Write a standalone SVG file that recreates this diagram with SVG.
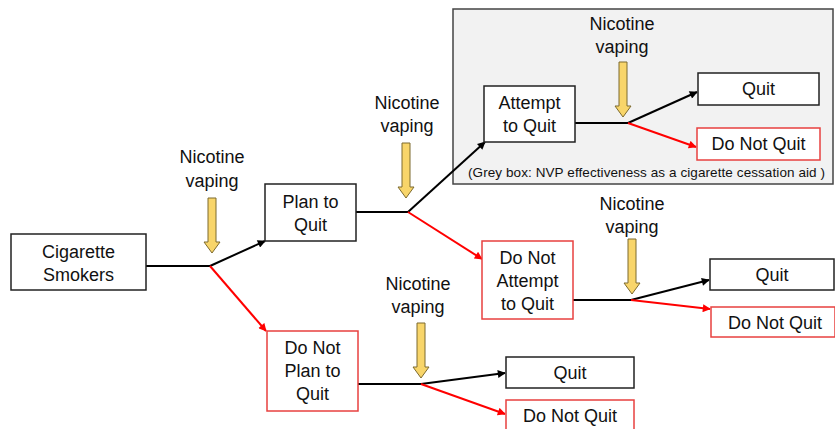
<svg xmlns="http://www.w3.org/2000/svg" width="835" height="429" viewBox="0 0 835 429">
<defs>
<style>
text{font-family:"Liberation Sans",Arial,sans-serif;fill:#111;}
.lbl{font-size:18px;text-anchor:middle;}
.cap{font-size:13.5px;}
.box{fill:#fff;stroke:#222;stroke-width:1.5;}
.rbox{fill:#fff;stroke:#e8403f;stroke-width:1.5;}
.k{stroke:#000;stroke-width:2;fill:none;}
.r{stroke:#f00;stroke-width:2;fill:none;}
.ya{fill:#f8d56a;stroke:#7d6a2e;stroke-width:1;}
</style>
<marker id="ak" viewBox="0 0 10 10" refX="9" refY="5" markerWidth="9" markerHeight="8" markerUnits="userSpaceOnUse" orient="auto"><path d="M0,0L10,5L0,10z" fill="#000"/></marker>
<marker id="ar" viewBox="0 0 10 10" refX="9" refY="5" markerWidth="9" markerHeight="8" markerUnits="userSpaceOnUse" orient="auto"><path d="M0,0L10,5L0,10z" fill="#f00"/></marker>
<path id="yarrow" class="ya" d="M-4,0H4V44H8L0,55L-8,44H-4Z"/>
</defs>
<rect width="835" height="429" fill="#fff"/>

<g id="greybox">
<rect x="453" y="9" width="380" height="175" fill="#f2f2f2" stroke="#444" stroke-width="1.5"/>
<text class="cap" x="468" y="177" textLength="357" lengthAdjust="spacing">(Grey box: NVP effectiveness as a cigarette cessation aid )</text>
</g>

<g id="connectors">
<line class="k" x1="146" y1="266" x2="210" y2="266"/>
<line class="k" x1="210" y1="266" x2="265" y2="241" marker-end="url(#ak)"/>
<line class="r" x1="210" y1="266" x2="266" y2="331" marker-end="url(#ar)"/>
<line class="k" x1="356" y1="212" x2="408" y2="212"/>
<line class="k" x1="408" y1="212" x2="485" y2="142" marker-end="url(#ak)"/>
<line class="r" x1="408" y1="212" x2="482" y2="259" marker-end="url(#ar)"/>
<line class="k" x1="575" y1="123" x2="628" y2="123"/>
<line class="k" x1="628" y1="123" x2="697" y2="92" marker-end="url(#ak)"/>
<line class="r" x1="628" y1="123" x2="696" y2="147" marker-end="url(#ar)"/>
<line class="k" x1="573" y1="300" x2="631" y2="300"/>
<line class="k" x1="631" y1="300" x2="709" y2="280" marker-end="url(#ak)"/>
<line class="r" x1="631" y1="300" x2="710" y2="309" marker-end="url(#ar)"/>
<line class="k" x1="358" y1="384" x2="421" y2="384"/>
<line class="k" x1="421" y1="384" x2="505" y2="373" marker-end="url(#ak)"/>
<line class="r" x1="421" y1="384" x2="505" y2="414" marker-end="url(#ar)"/>
</g>

<g id="vaping1">
<text class="lbl" x="212" y="163">Nicotine</text>
<text class="lbl" x="212" y="187">vaping</text>
<use href="#yarrow" x="212" y="198"/>
</g>
<g id="vaping2">
<text class="lbl" x="407" y="109">Nicotine</text>
<text class="lbl" x="407" y="132">vaping</text>
<use href="#yarrow" x="406" y="143"/>
</g>
<g id="vaping3">
<text class="lbl" x="622" y="30">Nicotine</text>
<text class="lbl" x="622" y="53">vaping</text>
<use href="#yarrow" x="623" y="62"/>
</g>
<g id="vaping4">
<text class="lbl" x="632" y="210">Nicotine</text>
<text class="lbl" x="632" y="233">vaping</text>
<use href="#yarrow" x="632" y="239"/>
</g>
<g id="vaping5">
<text class="lbl" x="418" y="290">Nicotine</text>
<text class="lbl" x="418" y="313">vaping</text>
<use href="#yarrow" x="421" y="323"/>
</g>

<g id="smokers">
<rect class="box" x="11" y="234" width="135" height="56"/>
<text class="lbl" x="78.5" y="258">Cigarette</text>
<text class="lbl" x="78.5" y="281">Smokers</text>
</g>
<g id="plan">
<rect class="box" x="265" y="184" width="91" height="57"/>
<text class="lbl" x="310.5" y="208">Plan to</text>
<text class="lbl" x="310.5" y="231">Quit</text>
</g>
<g id="noplan">
<rect class="rbox" x="267" y="331" width="91" height="80"/>
<text class="lbl" x="312.5" y="354">Do Not</text>
<text class="lbl" x="312.5" y="377">Plan to</text>
<text class="lbl" x="312.5" y="400">Quit</text>
</g>
<g id="attempt">
<rect class="box" x="484" y="86" width="91" height="56"/>
<text class="lbl" x="529.5" y="109">Attempt</text>
<text class="lbl" x="529.5" y="132">to Quit</text>
</g>
<g id="noattempt">
<rect class="rbox" x="482" y="241" width="91" height="78"/>
<text class="lbl" x="527.5" y="264">Do Not</text>
<text class="lbl" x="527.5" y="287">Attempt</text>
<text class="lbl" x="527.5" y="310">to Quit</text>
</g>
<g id="quit1">
<rect class="box" x="698" y="73" width="121" height="32"/>
<text class="lbl" x="758.5" y="95">Quit</text>
</g>
<g id="noquit1">
<rect class="rbox" x="697" y="128" width="123" height="32"/>
<text class="lbl" x="758.5" y="150">Do Not Quit</text>
</g>
<g id="quit2">
<rect class="box" x="710" y="259" width="124" height="31"/>
<text class="lbl" x="772" y="281">Quit</text>
</g>
<g id="noquit2">
<rect class="rbox" x="711" y="307" width="124" height="30"/>
<text class="lbl" x="775" y="329">Do Not Quit</text>
</g>
<g id="quit3">
<rect class="box" x="506" y="357" width="128" height="31"/>
<text class="lbl" x="570" y="379">Quit</text>
</g>
<g id="noquit3">
<rect class="rbox" x="506" y="400" width="128" height="40"/>
<text class="lbl" x="570" y="422">Do Not Quit</text>
</g>
</svg>
